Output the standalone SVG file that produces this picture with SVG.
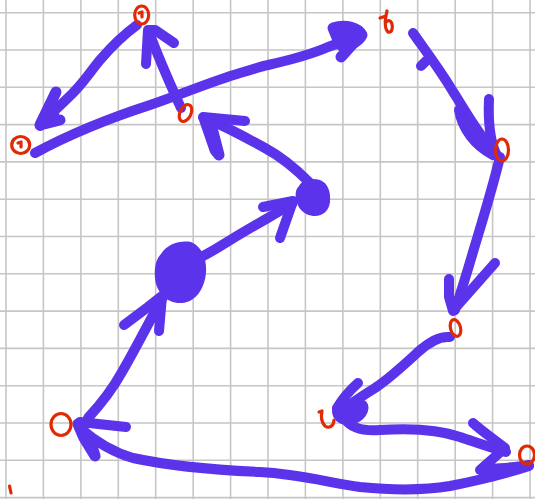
<svg xmlns="http://www.w3.org/2000/svg" width="535" height="499" viewBox="0 0 535 499">
<style>
.grid line{stroke:#c6c6c6;stroke-width:1.6}
.p{stroke:#5b33ea;fill:none;stroke-width:10;stroke-linecap:round;stroke-linejoin:round}
.h{stroke:#5b33ea;fill:#5b33ea;stroke-width:11;stroke-linecap:round;stroke-linejoin:round}
.r{stroke:#e12a05;fill:none;stroke-width:3.2;stroke-linecap:round;stroke-linejoin:round}
.b{fill:#5b33ea}
</style>
<rect width="535" height="499" fill="#ffffff"/>
<g class="grid">
<line x1="6" y1="0" x2="6" y2="499"/><line x1="43.4" y1="0" x2="43.4" y2="499"/><line x1="80.9" y1="0" x2="80.9" y2="499"/><line x1="118.3" y1="0" x2="118.3" y2="499"/><line x1="155.7" y1="0" x2="155.7" y2="499"/><line x1="193.2" y1="0" x2="193.2" y2="499"/><line x1="230.6" y1="0" x2="230.6" y2="499"/><line x1="268" y1="0" x2="268" y2="499"/><line x1="305.4" y1="0" x2="305.4" y2="499"/><line x1="342.9" y1="0" x2="342.9" y2="499"/><line x1="380.3" y1="0" x2="380.3" y2="499"/><line x1="417.7" y1="0" x2="417.7" y2="499"/><line x1="455.2" y1="0" x2="455.2" y2="499"/><line x1="492.6" y1="0" x2="492.6" y2="499"/><line x1="530" y1="0" x2="530" y2="499"/>
<line x1="0" y1="12.7" x2="535" y2="12.7"/><line x1="0" y1="50" x2="535" y2="50"/><line x1="0" y1="87.3" x2="535" y2="87.3"/><line x1="0" y1="124.6" x2="535" y2="124.6"/><line x1="0" y1="161.9" x2="535" y2="161.9"/><line x1="0" y1="199.2" x2="535" y2="199.2"/><line x1="0" y1="236.5" x2="535" y2="236.5"/><line x1="0" y1="273.8" x2="535" y2="273.8"/><line x1="0" y1="311.1" x2="535" y2="311.1"/><line x1="0" y1="348.4" x2="535" y2="348.4"/><line x1="0" y1="385.7" x2="535" y2="385.7"/><line x1="0" y1="423" x2="535" y2="423"/><line x1="0" y1="460.3" x2="535" y2="460.3"/><line x1="0" y1="497.6" x2="535" y2="497.6"/>
</g>
<g id="connectors">
<path id="c1" class="p" d="M137,25 C126,33 112,46 100,60 C90,72 84,82 72,94 C62,104 50,114 40,126"/>
<path class="h" d="M56,92 L40,125 L60,120" stroke-width="13"/>
<path id="c2" class="p" stroke-width="11" d="M35,153 C70,134 110,118 150,105 C185,93 210,82 240,73 C255,69 262,66 268,65 C290,60 310,55 328,47 L356,37"/>
<path class="h" d="M335,31 L360,36 L341,57" stroke-width="12"/>
<path class="h" d="M333,28 C345,24 358,27 362,35 C358,43 348,46 340,45 Z" stroke-width="8"/>
<path id="c3" class="p" d="M181,108 C172,88 160,62 149,32"/>
<path class="p" d="M146,64 L148,30 L155,30 L174,43"/>
<path id="c4" class="p" d="M310,183 C295,168 280,156 265,148 C245,137 225,126 205,118"/>
<path class="p" d="M245,121 L203,117"/>
<path class="h" d="M204,118 L212,128 L219,155 L215,150 Z" stroke-width="14"/>
<path id="c5" class="p" d="M203,256 C215,250 222,245 232,239 C250,228 268,218 292,204"/>
<path class="p" stroke-width="12" d="M263,207 L293,201 L280,238"/>
<path id="c6" class="p" d="M163,297 C150,320 136,348 122,372 C112,390 100,405 88,418"/>
<path class="p" stroke-width="13" d="M124,325 L148,307 L162,296 L159,331"/>
<path class="p" d="M80,422 L126,427"/>
<path id="c7" class="p" d="M413,33 C425,50 440,70 452,90 C465,110 478,135 497,155"/>
<path class="p" d="M421,66 L426,61"/>
<path class="p" stroke-width="15" d="M459,110 C462,128 474,145 493,155"/>
<path class="p" d="M489,99 C488,120 490,140 496,154"/>
<path id="c8" class="p" d="M500,157 C492,190 482,222 473,252 C466,276 460,295 455,310"/>
<path class="p" stroke-width="14" d="M449,279 L449,297 L453,311"/>
<path class="p" d="M495,263 L457,306"/>
<path id="c9" class="p" d="M450,337 C440,336 430,341 418,352 C405,364 390,378 375,388 C362,396 352,403 342,410"/>
<path class="p" stroke-width="12" d="M358,383 C350,390 343,398 337,408"/>
<path class="p" stroke-width="9" d="M337,409 C336,418 346,423 354,419 C363,415 367,405 360,404 C353,406 348,413 346,420"/>
<path id="c10" class="p" d="M346,420 C352,429 365,431 380,430 C410,428 440,430 460,437 C478,443 492,448 506,452"/>
<path class="p" d="M473,423 C483,432 495,440 505,448 L480,470 C495,468 515,468 529,465"/>
<path id="c11" class="p" stroke-width="11" d="M529,466 C505,474 475,481 450,486 C420,491 390,490 360,487 C330,483 300,474 260,472 C215,470 170,466 133,458 C112,452 96,442 80,428"/>
<path class="h" d="M78,424 L84,438 L95,456 L90,440 Z" stroke-width="17"/>
</g>
<g id="n1"><ellipse class="r" cx="141.7" cy="15" rx="7" ry="9"/><path class="r" d="M139,13 L142,12 L142,17"/></g>
<g id="n2"><ellipse class="r" cx="20.7" cy="145" rx="9" ry="8.5"/><path class="r" d="M18,143 L21,142 L21,147"/></g>
<g id="n3"><ellipse class="r" cx="185.5" cy="113" rx="5.5" ry="9" transform="rotate(25 185.5 113)"/></g>
<g id="n4"><path class="r" d="M380,18 L386,16 M387,11 C385,18 384,28 388,32 C392,33 393,28 392,24 C391,20 388,20 386,22"/></g>
<g id="n5"><ellipse class="r" cx="502" cy="150" rx="6.5" ry="11"/></g>
<g id="n6"><path class="b" d="M299,186 C303,179 312,178 320,180 C328,183 331,192 330,202 C329,211 322,217 313,216 C304,215 297,208 296,199 C295,193 296,189 299,186 Z"/></g>
<g id="n7"><path class="b" d="M161,254 C167,244 180,240 191,242 C201,246 207,258 206,272 C205,288 196,302 182,303 C167,304 156,292 155,278 C154,268 156,259 161,254 Z"/></g>
<g id="n8"><ellipse class="r" cx="455.5" cy="328" rx="5" ry="8.5" transform="rotate(-15 455.5 328)"/></g>
<g id="n9"><ellipse class="r" cx="61" cy="424.5" rx="10" ry="11"/></g>
<g id="n10"><path class="r" d="M319,412 L322,411 C321,416 321,422 325,426 C329,429 334,426 334,420"/></g>
<g id="n11"><ellipse class="r" cx="527" cy="455" rx="7.5" ry="9"/></g>
<g id="n12"><path class="r" d="M9.5,486 L11,493"/></g>
</svg>
